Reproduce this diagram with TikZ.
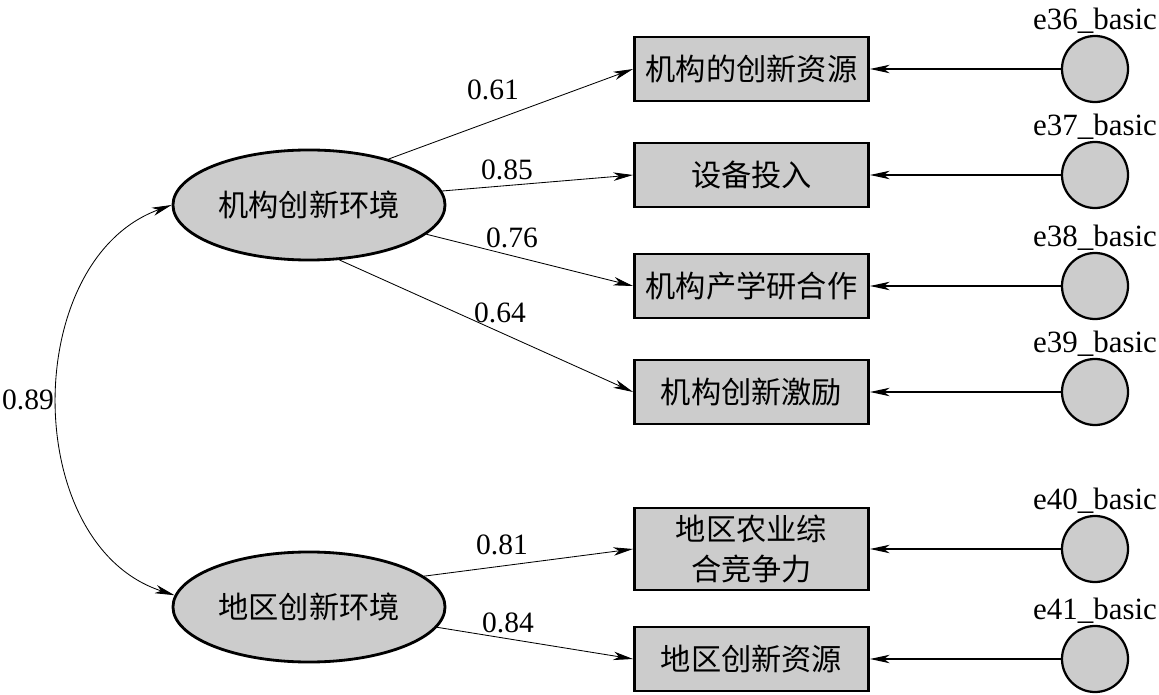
\documentclass[tikz,border=0pt]{standalone}
\usepackage{fontspec}
\setmainfont{Liberation Serif}
\newfontfamily\cjk{Noto Sans CJK SC}
\usetikzlibrary{shapes.geometric,arrows.meta}
\definecolor{semgray}{RGB}{204,204,204}
\tikzset{
  latent/.style={ellipse,draw,line width=2pt,fill=semgray,minimum width=6.8cm,minimum height=2.75cm,inner sep=0pt,font=\cjk\fontsize{21.5}{28}\selectfont},
  observed/.style={rectangle,draw,line width=2pt,fill=semgray,minimum width=5.85cm,minimum height=1.6cm,inner sep=0pt,align=center,font=\cjk\fontsize{21.5}{28}\selectfont},
  errvar/.style={circle,draw,line width=1.6pt,fill=semgray,minimum size=1.65cm,inner sep=0pt},
  coef/.style={inner sep=1pt,font=\fontsize{21}{24}\selectfont},
  errlabel/.style={inner sep=1pt,font=\fontsize{22}{24}\selectfont},
  loading/.style={-{Stealth[length=14pt,width=6pt,inset=4pt]},line width=0.6pt},
  corr/.style={{Stealth[length=14pt,width=6pt,inset=4pt]}-{Stealth[length=14pt,width=6pt,inset=4pt]},line width=0.6pt},
}
\begin{document}
\begin{tikzpicture}[x=0.025cm,y=-0.025cm]
\useasboundingbox (0,0) rectangle (1159,695);
% latent variables
\node[latent](e1) at (309,205) {机构创新环境};
\node[latent](e2) at (309,607) {地区创新环境};
% indicators
\node[observed](m36) at (751.5,69) {机构的创新资源};
\node[observed](m37) at (751.5,175) {设备投入};
\node[observed](m38) at (751.5,286) {机构产学研合作};
\node[observed](m39) at (751.5,392) {机构创新激励};
\node[observed,minimum height=2.05cm](m40) at (751.5,549) {地区农业综\\合竞争力};
\node[observed](m41) at (751.5,659) {地区创新资源};
% error terms
\foreach \i/\y in {36/69,37/175,38/286,39/392,40/549,41/659}{
  \node[errvar](u\i) at (1095,\y) {};
  \node[errlabel,anchor=base](t\i) at ([yshift=4pt]u\i.north) {e\i\_basic};
  \draw[loading,line width=1pt] (u\i) -- (m\i);
}
% loadings
\draw[loading] (e1.30) -- (m36.west);
\draw[loading] (e1.6) -- (m37.west);
\draw[loading] (e1.-14) -- (m38.west);
\draw[loading] (e1.-61) -- (m39.west);
\draw[loading] (e2.15) -- (m40.west);
\draw[loading] (e2.-9) -- (m41.west);
\node[coef](c36) at (493,90) {0.61};
\node[coef](c37) at (507,170) {0.85};
\node[coef](c38) at (512,238) {0.76};
\node[coef](c39) at (500,313) {0.64};
\node[coef](c40) at (502,545) {0.81};
\node[coef](c41) at (508,623) {0.84};
% correlation
\draw[corr] (e1.west) .. controls (20,260) and (20,545) .. (e2.175);
\node[coef](r12) at (28,400) {0.89};
\end{tikzpicture}
\end{document}
